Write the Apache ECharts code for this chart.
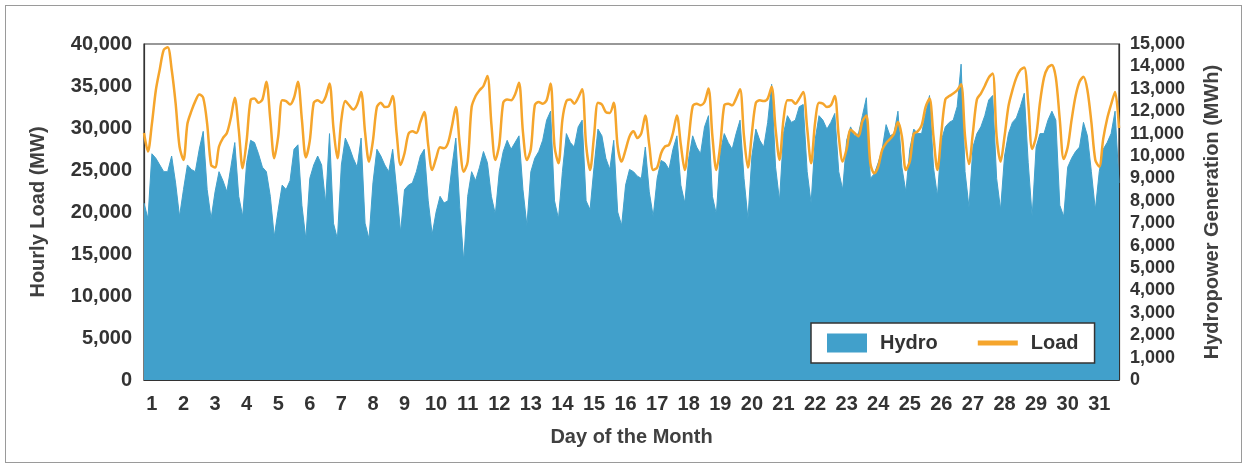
<!DOCTYPE html>
<html>
<head>
<meta charset="UTF-8">
<title>Hourly Load and Hydro</title>
<style>
    body, html { margin: 0; padding: 0; width: 1244px; height: 464px; background: #fff; }
    #container { position: absolute; left: 0; top: 0; width: 1244px; height: 464px; }
    #frame { position: absolute; left: 5px; top: 5px; width: 1235px; height: 456px; border: 1px solid #9a9a9a; pointer-events: none; }
</style>
</head>
<body>
<div id="container"></div>
<div id="frame"></div>
<script src="https://cdn.jsdelivr.net/npm/echarts@6/dist/echarts.min.js"></script>
<script>
// days of the month and sampled hours (every 3 h)
var days = [1,2,3,4,5,6,7,8,9,10,11,12,13,14,15,16,17,18,19,20,21,22,23,24,25,26,27,28,29,30,31];
var hours = [0, 3, 6, 9, 12, 15, 18, 21];

// hourly load, MW (left axis) - 8 values per day
var load = [
    29400, 27200, 30500, 34500, 37000, 39300, 39600, 37000,  // 1
    33000, 27800, 26200, 30500, 32000, 33200, 34000, 33600,  // 2
    30500, 25600, 25300, 27800, 28800, 29400, 31200, 33600,  // 3
    29800, 25200, 28500, 33300, 33500, 33000, 33400, 35500,  // 4
    31000, 26400, 29000, 33300, 33200, 32800, 33600, 35500,  // 5
    31000, 26500, 28500, 33000, 33300, 33000, 33700, 35300,  // 6
    30000, 26400, 31000, 33200, 32700, 32200, 32800, 34300,  // 7
    29500, 26000, 28500, 32500, 33000, 32500, 32600, 33800,  // 8
    29400, 25600, 27000, 29300, 29600, 29400, 30700, 31900,  // 9
    28000, 25000, 26400, 27700, 27600, 28200, 30200, 32500,  // 10
    28000, 24800, 26000, 32500, 33800, 34500, 35000, 36200,  // 11
    30500, 26200, 28000, 33000, 33400, 33300, 34000, 35400,  // 12
    29500, 26200, 27500, 32700, 33100, 32900, 33300, 35300,  // 13
    27800, 25800, 31000, 33200, 33400, 32900, 33600, 34600,  // 14
    28000, 25000, 29000, 33000, 32800, 31900, 31800, 33000,  // 15
    27800, 26000, 27400, 29000, 29600, 28800, 29400, 31500,  // 16
    28000, 25000, 25300, 27000, 27800, 28000, 29400, 31500,  // 17
    28000, 25000, 28700, 32600, 32900, 32700, 33100, 34700,  // 18
    29000, 25000, 28000, 32700, 32900, 32700, 33500, 34600,  // 19
    29000, 25300, 29400, 33000, 33300, 33200, 33500, 34900,  // 20
    29900, 26200, 31000, 33300, 33300, 32900, 33500, 34300,  // 21
    30000, 25800, 30600, 33000, 32900, 32500, 32700, 33800,  // 22
    29000, 26000, 27500, 29800, 29400, 29000, 30800, 31500,  // 23
    25800, 24600, 25400, 27400, 28200, 28700, 29300, 30700,  // 24
    29000, 25000, 26000, 29300, 29600, 30300, 32500, 33500,  // 25
    29000, 25000, 29400, 33400, 33800, 34100, 34500, 35200,  // 26
    29000, 25700, 29500, 33400, 34100, 35000, 36000, 36500,  // 27
    29000, 26000, 29000, 32600, 34500, 36000, 36900, 37200,  // 28
    33000, 27500, 29000, 33100, 36000, 37200, 37500, 36000,  // 29
    31000, 26300, 27700, 31000, 33800, 35500, 36100, 34500,  // 30
    30700, 26200, 25400, 28700, 31100, 32800, 34300, 30000   // 31
];

// hydropower generation, MWh (right axis)
var hydro = [
    7900, 7200, 10100, 9900, 9600, 9300, 9300, 10000,       // 1
    8800, 7300, 8500, 9600, 9400, 9300, 10300, 11100,       // 2
    8500, 7200, 8400, 9300, 8900, 8400, 9500, 10600,        // 3
    8200, 7300, 9700, 10700, 10600, 10100, 9500, 9300,      // 4
    8200, 6400, 7600, 8700, 8500, 8900, 10300, 10500,       // 5
    7800, 6300, 9000, 9600, 10000, 9600, 7900, 11000,       // 6
    7000, 6300, 9600, 10800, 10400, 9900, 9500, 10800,      // 7
    7000, 6300, 8800, 10300, 10000, 9600, 9300, 10300,      // 8
    8500, 6600, 8500, 8700, 8800, 9300, 10000, 10300,       // 9
    8000, 6500, 7500, 8200, 7900, 8000, 9500, 10800,        // 10
    7700, 5300, 8200, 9300, 8900, 9500, 10200, 9700,        // 11
    8200, 7400, 9300, 10200, 10700, 10300, 10600, 10900,    // 12
    8500, 6900, 9300, 9900, 10200, 10700, 11600, 12000,     // 13
    8000, 7200, 9300, 11000, 10600, 10400, 11300, 11600,    // 14
    8000, 7600, 9500, 11200, 10900, 9900, 9400, 10700,      // 15
    7500, 6900, 8700, 9400, 9300, 9100, 9000, 10400,        // 16
    8400, 7300, 9000, 9800, 9700, 9400, 10300, 10900,       // 17
    8700, 7900, 9900, 10900, 10400, 10100, 11300, 11800,    // 18
    8200, 7400, 10200, 11000, 10600, 10300, 11000, 11600,   // 19
    9000, 7200, 10000, 11200, 10700, 10400, 11500, 13200,   // 20
    9500, 8000, 11000, 11800, 11500, 11600, 12200, 12300,   // 21
    9300, 7900, 10700, 11800, 11600, 11200, 11500, 11900,   // 22
    9300, 8500, 10700, 11300, 10900, 11000, 11800, 12600,   // 23
    9000, 9200, 9700, 10300, 11400, 10900, 11000, 12000,    // 24
    9500, 8400, 10300, 11200, 11000, 11000, 11900, 12700,   // 25
    9500, 8200, 10700, 11300, 11500, 11600, 12200, 14100,   // 26
    9300, 7700, 10400, 11000, 11300, 11800, 12500, 12700,   // 27
    9000, 7600, 10000, 11000, 11500, 11700, 12200, 12800,   // 28
    9700, 7300, 10400, 11000, 11000, 11600, 12000, 11600,   // 29
    7800, 7300, 9500, 9900, 10200, 10400, 11500, 10900,     // 30
    9300, 7600, 9300, 10300, 10600, 11000, 12000, 8800      // 31
];

var categories = [];
for (var d = 0; d < days.length; d++) {
    for (var h = 0; h < hours.length; h++) {
        categories.push(days[d] + '-' + hours[h]);
    }
}

var font = 'Liberation Sans, Arial, sans-serif';
var chart = echarts.init(document.getElementById('container'));
var option = {
    animation: false,
    textStyle: { fontFamily: font },
    grid: { left: 144, right: 125, top: 44, bottom: 84, show: true, borderColor: '#333', borderWidth: 1.2, backgroundColor: '#fff' },
    legend: {
        left: 811, top: 323,
        backgroundColor: '#fff', borderColor: '#333', borderWidth: 1.5, borderRadius: 0,
        padding: [10, 16, 10, 16],
        itemGap: 40, itemWidth: 40, itemHeight: 19,
        textStyle: { fontFamily: font, fontSize: 20, fontWeight: 'bold', color: '#333', padding: [0, 0, 0, 8] },
        data: [
            { name: 'Hydro', icon: 'rect' },
            { name: 'Load', icon: 'path://M0,0 L40,0 L40,5 L0,5 Z' }
        ]
    },
    xAxis: {
        type: 'category',
        data: categories,
        boundaryGap: false,
        name: 'Day of the Month',
        nameLocation: 'middle',
        nameGap: 47,
        nameTextStyle: { fontFamily: font, fontSize: 20, fontWeight: 'bold', color: '#404040' },
        axisLine: { lineStyle: { color: '#333', width: 1.2 } },
        axisTick: { show: false },
        splitLine: { show: false },
        axisLabel: {
            interval: function (i) { return i % 8 === 2; },
            formatter: function (v) { return v.split('-')[0]; },
            margin: 14,
            fontFamily: font, fontSize: 20, fontWeight: 'bold', color: '#333'
        }
    },
    yAxis: [{
        type: 'value', min: 0, max: 40000, interval: 5000,
        name: 'Hourly Load (MW)',
        nameLocation: 'middle', nameGap: 96,
        nameTextStyle: { fontFamily: font, fontSize: 20, fontWeight: 'bold', color: '#404040' },
        axisLine: { show: true, lineStyle: { color: '#333', width: 1.2 } },
        axisTick: { show: false },
        splitLine: { show: false },
        axisLabel: {
            margin: 12,
            formatter: function (v) { return v.toLocaleString('en-US'); },
            fontFamily: font, fontSize: 20, fontWeight: 'bold', color: '#333'
        }
    }, {
        type: 'value', min: 0, max: 15000, interval: 1000,
        name: 'Hydropower Generation (MWh)',
        nameLocation: 'middle', nameGap: 83,
        nameTextStyle: { fontFamily: font, fontSize: 20, fontWeight: 'bold', color: '#404040' },
        axisLine: { show: true, lineStyle: { color: '#333', width: 1.2 } },
        axisTick: { show: false },
        splitLine: { show: false },
        axisLabel: {
            margin: 11,
            formatter: function (v) { return v.toLocaleString('en-US'); },
            fontFamily: font, fontSize: 18, fontWeight: 'bold', color: '#333'
        }
    }],
    series: [{
        name: 'Hydro',
        type: 'line',
        yAxisIndex: 1,
        data: hydro,
        symbol: 'none',
        lineStyle: { width: 1, color: '#41a0cb' },
        itemStyle: { color: '#41a0cb' },
        areaStyle: { color: '#41a0cb', opacity: 1 },
        z: 1
    }, {
        name: 'Load',
        type: 'line',
        yAxisIndex: 0,
        data: load,
        symbol: 'none',
        smooth: 0.3,
        lineStyle: { width: 2.5, color: '#f5a52c' },
        itemStyle: { color: '#f5a52c' },
        z: 3
    }]
};
chart.setOption(option);
</script>
</body>
</html>
